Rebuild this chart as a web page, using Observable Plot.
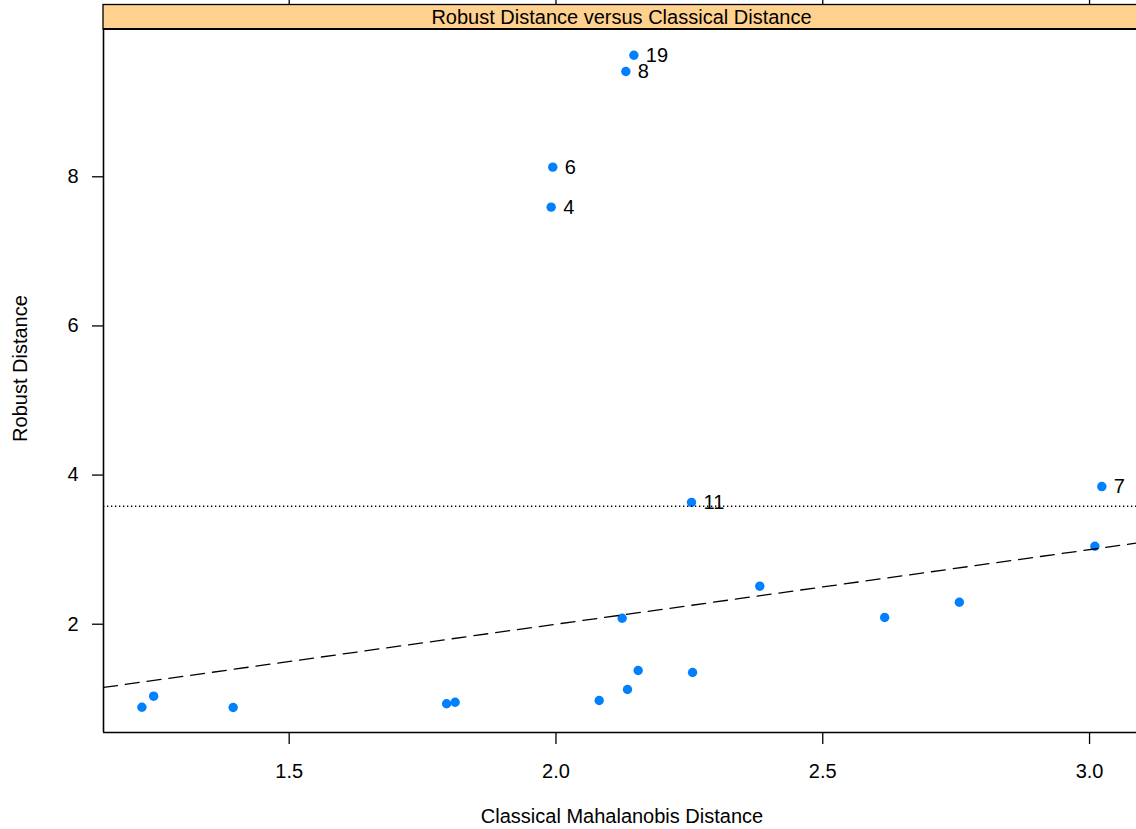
<!DOCTYPE html>
<html>
<head>
<meta charset="utf-8">
<script src="https://cdn.jsdelivr.net/npm/d3@7"></script>
<script src="https://cdn.jsdelivr.net/npm/@observablehq/plot@0.6"></script>
<style>
  html, body { margin: 0; padding: 0; background: #fff; overflow: hidden; }
  svg { display: block; }
</style>
</head>
<body>
<div id="chart"></div>
<script>
// ---- data ----
const classicalDist = [1.224, 1.246, 1.395, 1.795, 1.811, 2.081, 2.134, 2.154, 2.124, 2.256,
                       2.382, 2.616, 2.756, 3.010, 3.023, 2.254, 1.991, 1.994, 2.131, 2.146];
const robustDist    = [0.887, 1.035, 0.883, 0.933, 0.954, 0.977, 1.125, 1.379, 2.080, 1.353,
                       2.510, 2.090, 2.295, 3.046, 3.846, 3.634, 7.593, 8.129, 9.412, 9.630];
const pointLabels   = ["", "", "", "", "", "", "", "", "", "",
                       "", "", "", "", "7", "11", "4", "6", "8", "19"];
const cutoff = 3.582;              // sqrt(qchisq(0.975, 5))
const refSlope = 1, refIntercept = 0; // y = x reference line
const xTicks = [1.5, 2.0, 2.5, 3.0];
const yTicks = [2, 4, 6, 8];
const xDomain = [1.152, 3.088];
const yDomain = [0.548, 9.975];
const stripTitle = "Robust Distance versus Classical Distance";
const xTitle = "Classical Mahalanobis Distance";
const yTitle = "Robust Distance";

const pts = classicalDist.map((x, i) => ({x, y: robustDist[i], label: pointLabels[i]}));
const refLine = xDomain.map(x => ({x, y: refIntercept + refSlope * x}));

const FONT = "'Liberation Sans', Arial, Helvetica, sans-serif";
const W = 1136, H = 829, ML = 103, MT = 29, MB = 97, MR = 0;

const chart = Plot.plot({
  width: W, height: H,
  marginLeft: ML, marginTop: MT, marginBottom: MB, marginRight: MR,
  style: {fontFamily: FONT, fontSize: "20px", background: "#fff", color: "#000", overflow: "visible"},
  x: {domain: xDomain},
  y: {domain: yDomain},
  marks: [
    Plot.axisY({ticks: yTicks, tickSize: 11, tickPadding: 14, fontSize: 20, label: null, strokeWidth: 1.3}),
    Plot.axisX({ticks: xTicks, tickSize: 12, tickPadding: 19, fontSize: 20, label: null,
                tickFormat: d3.format(".1f"), strokeWidth: 1.3}),
    Plot.axisX({anchor: "top", ticks: xTicks, tickSize: 11, tickFormat: () => "", label: null,
                dy: -24.5, strokeWidth: 1.3}),
    Plot.dot(pts, {x: "x", y: "y", r: 4.7, fill: "#0080ff", stroke: null}),
    Plot.text(pts.filter(d => d.label), {x: "x", y: "y", text: "label", dx: 12,
              textAnchor: "start", lineAnchor: "middle", fontSize: 20, fill: "#000"}),
    Plot.ruleY([cutoff], {stroke: "#000", strokeWidth: 1.3, strokeDasharray: "1.3,2.7"}),
    Plot.line(refLine, {x: "x", y: "y", stroke: "#000", strokeWidth: 1.3, strokeDasharray: "14,8"}),
    Plot.ruleX([xDomain[0]], {stroke: "#000", strokeWidth: 1.6}),
    Plot.ruleY([yDomain[0]], {stroke: "#000", strokeWidth: 1.6}),
    Plot.text([xTitle], {frameAnchor: "bottom", dy: 84, dx: 2, lineAnchor: "middle", fontSize: 20, fill: "#000"}),
    Plot.text([yTitle], {frameAnchor: "left", dx: -83, dy: -12.5, rotate: -90, textAnchor: "middle",
              lineAnchor: "middle", fontSize: 20, fill: "#000"})
  ]
});

// strip (lattice panel header) above the panel
const svg = d3.select(chart);
const stripTop = 4.5, stripBottom = MT;
const panelRight = 1140;
const g = svg.append("g");
g.append("rect")
  .attr("x", ML).attr("y", stripTop)
  .attr("width", panelRight - ML).attr("height", stripBottom - stripTop)
  .attr("fill", "#ffd18f").attr("stroke", "#000").attr("stroke-width", 1.3);
g.append("line")
  .attr("x1", ML).attr("x2", panelRight).attr("y1", stripBottom).attr("y2", stripBottom)
  .attr("stroke", "#000").attr("stroke-width", 1.8);
g.append("text")
  .attr("x", (ML + panelRight) / 2).attr("y", (stripTop + stripBottom) / 2)
  .attr("dy", "0.35em").attr("text-anchor", "middle")
  .attr("font-size", 20).attr("font-family", FONT).attr("fill", "#000")
  .text(stripTitle);

document.getElementById("chart").appendChild(chart);
</script>
</body>
</html>
